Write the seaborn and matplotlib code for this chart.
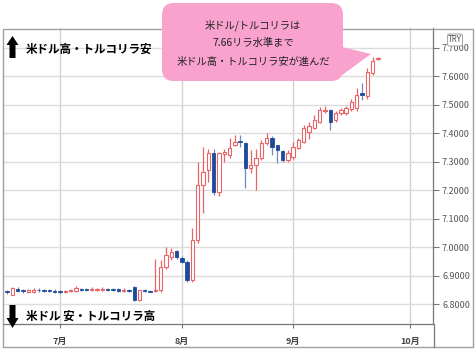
import numpy as np
import pandas as pd
import matplotlib
matplotlib.use("Agg")
import matplotlib.pyplot as plt
import seaborn as sns
from matplotlib.patches import FancyBboxPatch, Polygon, Rectangle
from matplotlib.lines import Line2D
from matplotlib.transforms import Affine2D

# ---------------- data ----------------
start_date = "2020-06-16"
end_date = "2020-09-23"

opens = [6.840, 6.848, 6.834, 6.855, 6.850, 6.845, 6.844, 6.850, 6.849, 6.849,
         6.848, 6.846, 6.843, 6.846, 6.848, 6.855, 6.853, 6.850, 6.850, 6.851,
         6.854, 6.855, 6.854, 6.846, 6.851, 6.862, 6.815, 6.850, 6.848, 6.846,
         6.850, 6.932, 6.965, 6.988, 6.962, 6.948, 6.885, 7.025, 7.219, 7.270,
         7.330, 7.195, 7.328, 7.325, 7.360, 7.370, 7.366, 7.277, 7.290, 7.313,
         7.366, 7.383, 7.358, 7.338, 7.306, 7.318, 7.350, 7.370, 7.405, 7.420,
         7.440, 7.478, 7.482, 7.446, 7.470, 7.470, 7.485, 7.490, 7.542, 7.530,
         7.610, 7.660]
highs = [6.850, 6.852, 6.862, 6.860, 6.853, 6.854, 6.856, 6.856, 6.855, 6.855,
         6.853, 6.850, 6.850, 6.854, 6.865, 6.858, 6.858, 6.860, 6.858, 6.862,
         6.858, 6.858, 6.857, 6.856, 6.854, 6.863, 6.852, 6.853, 6.851, 6.960,
         6.955, 7.000, 6.998, 6.990, 6.970, 6.955, 7.068, 7.299, 7.352, 7.345,
         7.345, 7.335, 7.345, 7.385, 7.395, 7.395, 7.370, 7.340, 7.345, 7.375,
         7.400, 7.390, 7.360, 7.340, 7.340, 7.370, 7.385, 7.430, 7.440, 7.464,
         7.493, 7.495, 7.485, 7.480, 7.490, 7.495, 7.520, 7.559, 7.575, 7.629,
         7.667, 7.668]
lows = [6.838, 6.838, 6.832, 6.843, 6.840, 6.841, 6.840, 6.843, 6.842, 6.843,
        6.840, 6.838, 6.840, 6.843, 6.845, 6.847, 6.846, 6.847, 6.846, 6.848,
        6.846, 6.846, 6.845, 6.843, 6.842, 6.813, 6.813, 6.843, 6.842, 6.842,
        6.845, 6.925, 6.955, 6.960, 6.945, 6.878, 6.880, 7.015, 7.120, 7.230,
        7.183, 7.180, 7.300, 7.315, 7.355, 7.353, 7.208, 7.260, 7.200, 7.305,
        7.360, 7.324, 7.296, 7.300, 7.300, 7.310, 7.345, 7.365, 7.380, 7.415,
        7.435, 7.470, 7.410, 7.440, 7.465, 7.465, 7.480, 7.480, 7.518, 7.520,
        7.605, 7.658]
closes = [6.848, 6.842, 6.858, 6.848, 6.846, 6.849, 6.850, 6.849, 6.848, 6.848,
          6.845, 6.843, 6.847, 6.850, 6.858, 6.852, 6.851, 6.853, 6.853, 6.854,
          6.851, 6.850, 6.848, 6.850, 6.846, 6.815, 6.850, 6.846, 6.844, 6.852,
          6.931, 6.973, 6.985, 6.965, 6.950, 6.885, 7.025, 7.218, 7.265, 7.330,
          7.195, 7.330, 7.333, 7.350, 7.370, 7.369, 7.278, 7.288, 7.315, 7.366,
          7.383, 7.352, 7.340, 7.306, 7.330, 7.352, 7.376, 7.420, 7.425, 7.445,
          7.482, 7.483, 7.440, 7.470, 7.482, 7.488, 7.510, 7.535, 7.535, 7.615,
          7.655, 7.664]

month_starts = ["2020-07-01", "2020-08-03", "2020-09-01", "2020-10-01"]
month_labels = ["7月", "8月", "9月", "10月"]
y_ticks = [6.8, 6.9, 7.0, 7.1, 7.2, 7.3, 7.4, 7.5, 7.6, 7.7]
y_limits = (6.731, 7.7695)
x_limits = (0.245, 81.38)

callout_lines = ["米ドル/トルコリラは", "7.66リラ水準まで", "米ドル高・トルコリラ安が進んだ"]
up_label = "米ドル高・トルコリラ安"
down_label = "米ドル 安・トルコリラ高"
currency = "TRY"

# ---------------- style ----------------
sns.set_theme(style="white")
plt.rcParams['font.family'] = ['Noto Sans CJK JP', 'DejaVu Sans']

W, H = 476, 351
fig = plt.figure(figsize=(W / 100, H / 100), dpi=100)
fig.patch.set_facecolor("white")
px = Affine2D().scale(1, -1).translate(0, H)  # top-left pixel coordinates

ax = fig.add_axes([3 / W, 1 - 324 / H, 430 / W, 296 / H])
ax.set_facecolor("white")

days = pd.bdate_range(start_date, end_date)
df = pd.DataFrame({"date": days, "open": opens, "high": highs,
                   "low": lows, "close": closes})
df["pos"] = np.arange(len(df))
df["up"] = df["close"] >= df["open"]

all_days = pd.bdate_range(start_date, month_starts[-1])
tick_pos = [all_days.get_loc(pd.Timestamp(d)) for d in month_starts]

up_edge = "#ea6367"
down_body = "#1d4b99"
down_wick = "#6d8cbd"

up = df[df["up"]]
dn = df[~df["up"]]

ax.vlines(up["pos"], up["low"], up["high"], color=up_edge, lw=0.9, zorder=2)
ax.vlines(dn["pos"], dn["low"], dn["high"], color=down_wick, lw=0.9, zorder=2)

bw = 0.64
minh = 0.0025
ax.bar(up["pos"], np.maximum(up["close"] - up["open"], minh),
       bottom=up["open"], width=bw, facecolor="white", edgecolor=up_edge,
       linewidth=0.8, zorder=3)
ax.bar(dn["pos"], np.maximum(dn["open"] - dn["close"], minh),
       bottom=dn["close"], width=bw, facecolor=down_body, edgecolor=down_body,
       linewidth=0.6, zorder=3)

ax.set_xlim(*x_limits)
ax.set_ylim(*y_limits)

ax.set_yticks(y_ticks)
ax.set_yticklabels([f"{v:.4f}" for v in y_ticks])
ax.yaxis.tick_right()
ax.set_xticks(tick_pos)
ax.set_xticklabels(month_labels, fontweight="bold")

ax.tick_params(axis="y", which="both", right=True, left=False, direction="out",
               length=4, width=0.8, color="#777777", pad=2.5,
               labelsize=6.5, labelcolor="#555555")
ax.tick_params(axis="x", which="both", bottom=True, direction="out",
               length=3, width=0.8, color="#777777", pad=6,
               labelsize=6.5, labelcolor="#444444")

ax.grid(True, axis="y", color="#dcdcdc", lw=1.0)
ax.grid(True, axis="x", color="#d2d2d2", lw=1.0)
ax.set_axisbelow(True)

for s in ["left", "top"]:
    ax.spines[s].set_visible(False)
for s in ["right", "bottom"]:
    ax.spines[s].set_color("#777777")
    ax.spines[s].set_linewidth(0.9)

# ---------------- frame ----------------
fig.add_artist(Rectangle((2.5, 28.5), 470, 318, transform=px, fill=False,
                         edgecolor="#a0a0a0", lw=1.0, zorder=1))
fig.add_artist(Line2D([433.5, 433.5], [324, 346.5], transform=px,
                      color="#777777", lw=0.9))

# ---------------- arrows + labels ----------------
up_arrow = [(12.5, 36), (18.5, 45), (15.5, 45), (15.5, 58),
            (9.5, 58), (9.5, 45), (6.5, 45)]
dn_arrow = [(12.5, 328), (18.5, 318), (15.5, 318), (15.5, 305),
            (9.5, 305), (9.5, 318), (6.5, 318)]
fig.add_artist(Polygon(up_arrow, closed=True, transform=px,
                       facecolor="black", edgecolor="none", zorder=4))
fig.add_artist(Polygon(dn_arrow, closed=True, transform=px,
                       facecolor="black", edgecolor="none", zorder=4))
fig.text(26, 49, up_label, transform=px, ha="left", va="center",
         fontsize=8.3, fontweight="bold", color="black", zorder=5)
fig.text(26, 316, down_label, transform=px, ha="left", va="center",
         fontsize=8.3, fontweight="bold", color="black", zorder=5)

# ---------------- callout ----------------
pink = "#f8a2cd"
fig.add_artist(FancyBboxPatch((162, 3), 181, 78,
                              boxstyle="round,pad=0,rounding_size=12",
                              transform=px, facecolor=pink, edgecolor="none",
                              zorder=4))
fig.add_artist(Polygon([(338, 46), (371, 54), (338, 78)], closed=True,
                       transform=px, facecolor=pink, edgecolor="none",
                       zorder=4))
for yy, line in zip([25, 43, 62], callout_lines):
    fig.text(253, yy, line, transform=px, ha="center", va="center",
             fontsize=7.4, color="#222222", zorder=6)

# ---------------- currency badge ----------------
fig.add_artist(FancyBboxPatch((447.5, 34), 15, 12,
                              boxstyle="round,pad=0,rounding_size=2",
                              transform=px, facecolor="white",
                              edgecolor="#aaaaaa", lw=0.8, zorder=4))
fig.text(455, 40, currency, transform=px, ha="center", va="center",
         fontsize=5.8, color="#555555", zorder=6)

fig.savefig("out.png", dpi=100)
